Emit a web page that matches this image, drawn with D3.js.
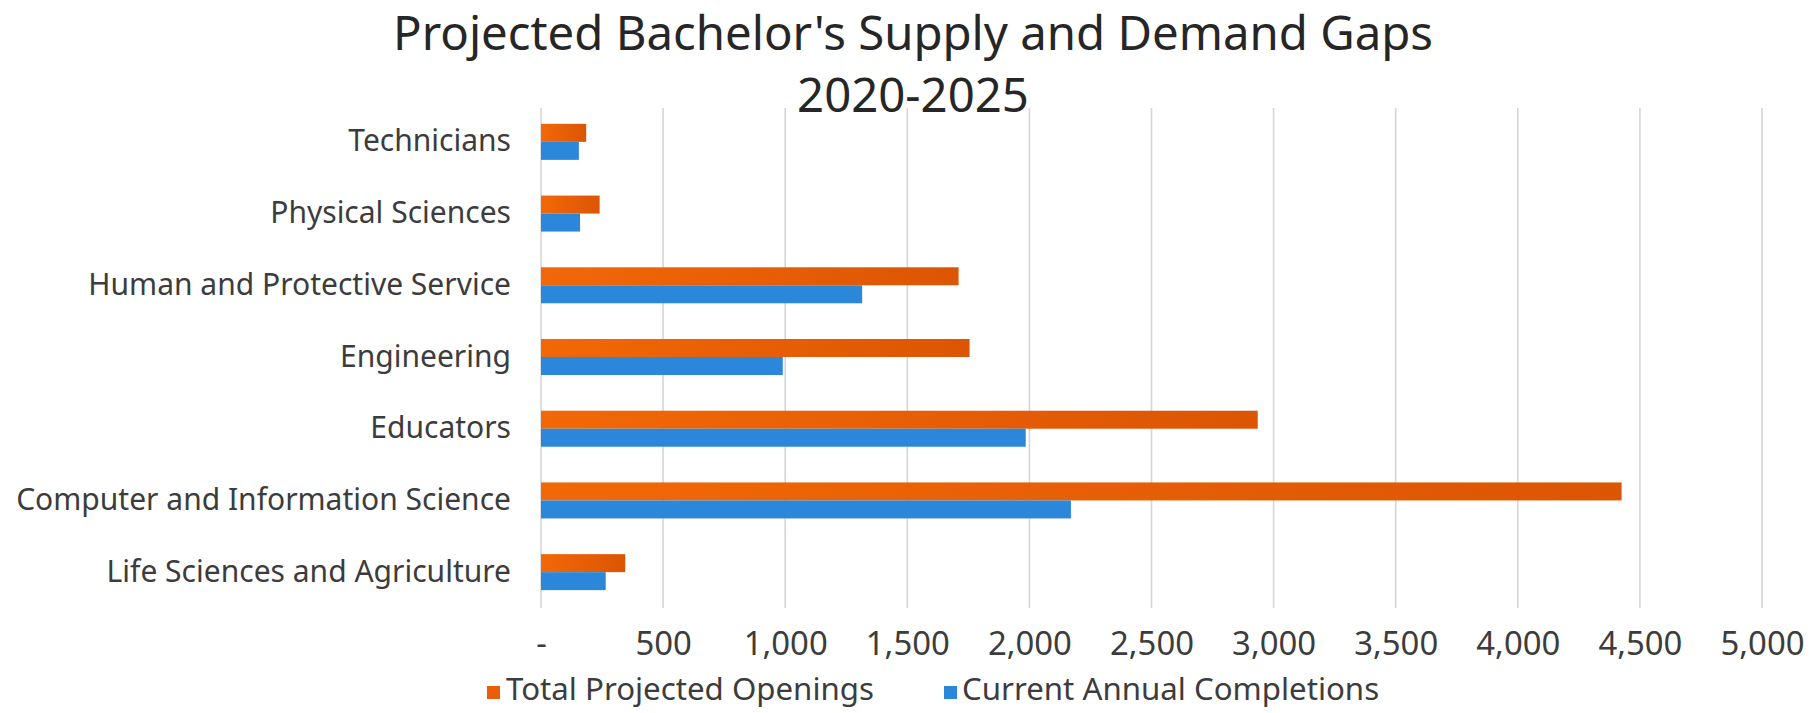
<!DOCTYPE html>
<html>
<head>
<meta charset="utf-8">
<script src="https://cdn.jsdelivr.net/npm/d3@7"></script>
<style>
  body { margin: 0; background: #fff; }
  text { font-family: "Noto Sans", sans-serif; }
</style>
</head>
<body>
<svg id="chart" width="1814" height="713"></svg>
<script>
const categories = ["Technicians", "Physical Sciences", "Human and Protective Service", "Engineering",
    "Educators", "Computer and Information Science", "Life Sciences and Agriculture"];
const seriesNames = ["Total Projected Openings", "Current Annual Completions"];
const openings = [185, 240, 1710, 1755, 2935, 4425, 345];
const completions = [155, 160, 1315, 990, 1985, 2170, 265];
const xTicks = [0, 500, 1000, 1500, 2000, 2500, 3000, 3500, 4000, 4500, 5000];
const titleLines = ["Projected Bachelor's Supply and Demand Gaps", "2020-2025"];

const colors = ["#E95E08", "#2B87D9"];

const svg = d3.select("#chart");
const plotLeft = 541, plotRight = 1762, plotTop = 108, plotBottom = 608;

// measure a text and set its size so it spans the given width
function fit(sel, base, target) {
    sel.style("font-size", base + "px");
    const w = sel.node().getComputedTextLength();
    const size = base * target / w;
    sel.style("font-size", size + "px");
    return size;
}

const defs = svg.append("defs");
const grad = defs.append("linearGradient").attr("id", "orangeGrad");
grad.append("stop").attr("offset", "0%").attr("stop-color", "#F26808");
grad.append("stop").attr("offset", "100%").attr("stop-color", "#DC5503");

const x = d3.scaleLinear().domain([0, 5000]).range([plotLeft, plotRight]);
const y0 = d3.scaleBand().domain(categories).range([106, plotBottom]);
const barH = 18;
const y1 = d3.scaleBand().domain(seriesNames)
    .range([(y0.bandwidth() - 2 * barH) / 2, (y0.bandwidth() + 2 * barH) / 2]);

// gridlines
svg.append("g")
    .selectAll("line")
    .data(xTicks)
    .join("line")
    .attr("x1", d => x(d))
    .attr("x2", d => x(d))
    .attr("y1", plotTop)
    .attr("y2", plotBottom)
    .style("stroke", "#D4D6DA")
    .style("stroke-width", "1.6px");

// bars
const rows = categories.map((c, i) => ({ cat: c, values: [openings[i], completions[i]] }));
const groups = svg.append("g")
    .selectAll("g")
    .data(rows)
    .join("g")
    .attr("transform", d => `translate(0 ${y0(d.cat)})`);

groups.selectAll("rect")
    .data(d => d.values.map((v, i) => ({ name: seriesNames[i], value: v, idx: i })))
    .join("rect")
    .attr("x", x(0))
    .attr("y", d => y1(d.name))
    .attr("width", d => x(d.value) - x(0))
    .attr("height", y1.bandwidth())
    .style("fill", d => d.idx === 0 ? "url(#orangeGrad)" : colors[1]);

// category axis
const yAxis = svg.append("g")
    .attr("transform", `translate(${plotLeft} 0)`)
    .call(d3.axisLeft(y0).tickSize(0).tickPadding(30));
yAxis.select(".domain").remove();
yAxis.selectAll("text").style("fill", "#3C3C3C").style("font-family", "Noto Sans");
const longest = yAxis.selectAll("text").filter(d => d === "Computer and Information Science");
const catSize = fit(longest, 30, 495);
yAxis.selectAll("text").style("font-size", catSize + "px");

// value axis
const xAxis = svg.append("g")
    .attr("transform", `translate(0 ${plotBottom})`)
    .call(d3.axisBottom(x).tickValues(xTicks).tickSize(0).tickPadding(24)
        .tickFormat(d => d === 0 ? "-" : d3.format(",")(d)));
xAxis.select(".domain").remove();
xAxis.selectAll("text").style("fill", "#3C3C3C").style("font-family", "Noto Sans");
const last = xAxis.selectAll("text").filter(d => d === 5000);
const tickSize = fit(last, 30, 84);
xAxis.selectAll("text").style("font-size", tickSize + "px");

// title
const title = svg.append("g");
title.selectAll("text")
    .data(titleLines)
    .join("text")
    .attr("x", 913)
    .attr("y", (d, i) => i === 0 ? 50 : 112)
    .attr("text-anchor", "middle")
    .style("fill", "#262626")
    .text(d => d);
const titleSize = fit(title.select("text"), 42, 1040);
title.selectAll("text").style("font-size", titleSize + "px");

// legend
const legendX = [487, 944];
const legendTextX = [506, 962];
const legend = svg.append("g")
    .selectAll("g")
    .data(seriesNames)
    .join("g");
legend.append("rect")
    .attr("x", (d, i) => legendX[i])
    .attr("y", 686)
    .attr("width", 13)
    .attr("height", 13)
    .style("fill", (d, i) => colors[i]);
legend.append("text")
    .attr("x", (d, i) => legendTextX[i])
    .attr("y", 700)
    .style("fill", "#3C3C3C")
    .text(d => d);
const legSize = fit(legend.select("text"), 30, 368);
legend.selectAll("text").style("font-size", legSize + "px");
</script>
</body>
</html>
